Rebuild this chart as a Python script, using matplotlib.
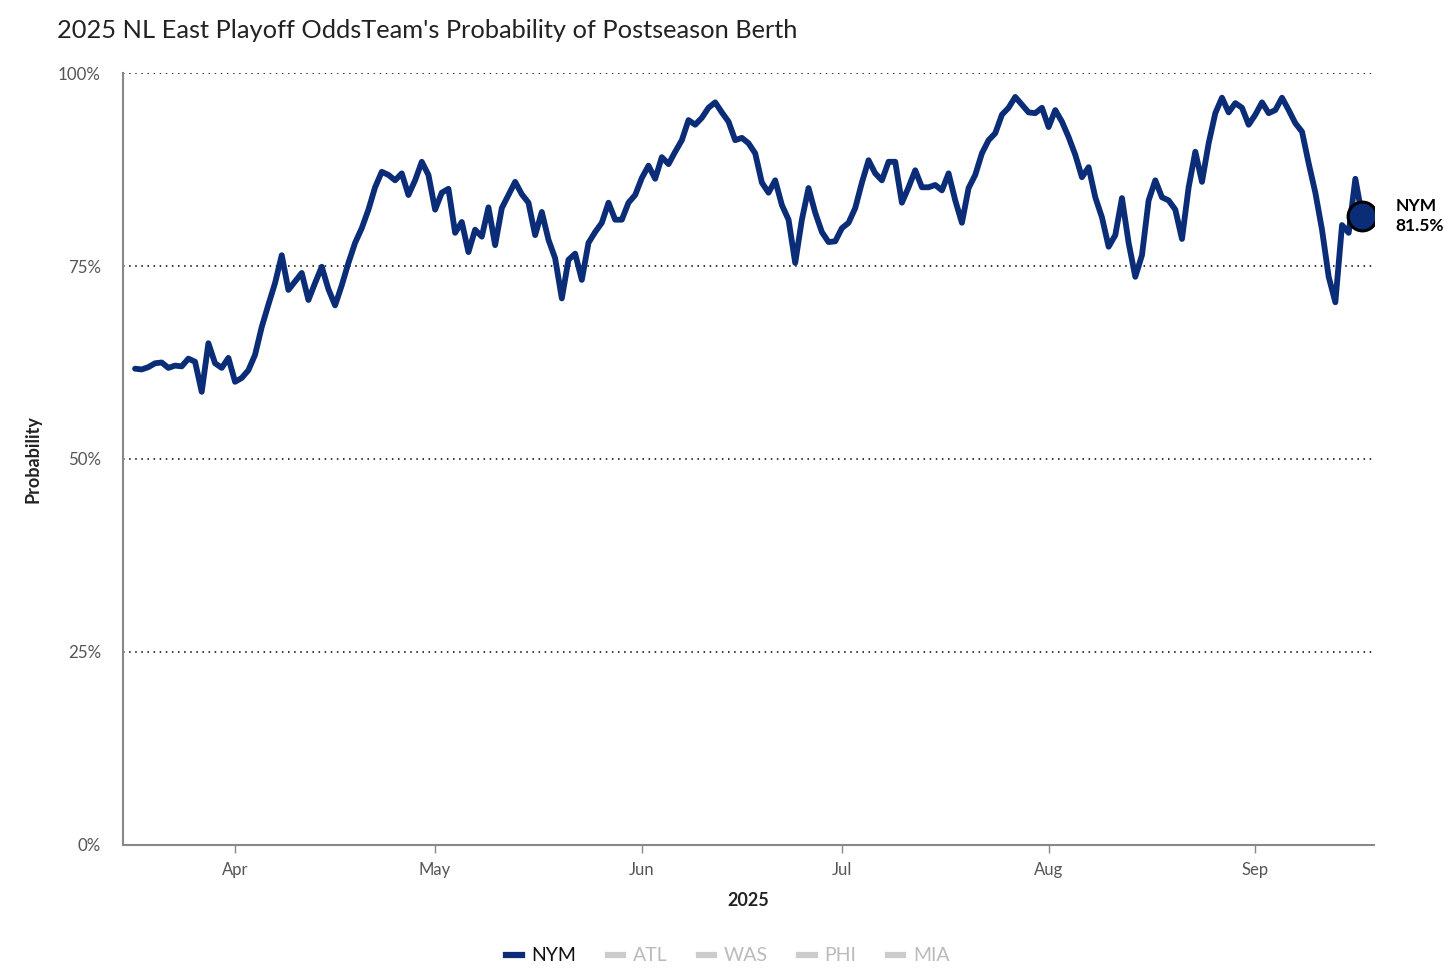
import matplotlib
matplotlib.use("Agg")
import matplotlib.pyplot as plt
from matplotlib.lines import Line2D
import pandas as pd

plt.rcParams['font.family'] = ['Lato', 'DejaVu Sans']

title = "2025 NL East Playoff OddsTeam's Probability of Postseason Berth"
start_date = "2025-03-17"
nym = [
    61.7, 61.6, 61.9, 62.4, 62.5, 61.8, 62.1, 62.0, 63.0, 62.6,
    58.7, 65.0, 62.4, 61.8, 63.1, 60.0, 60.5, 61.5, 63.5, 67.1,
    70.0, 72.8, 76.4, 71.9, 73.0, 74.1, 70.6, 72.8, 74.9, 72.0,
    69.9, 72.5, 75.4, 78.0, 79.9, 82.3, 85.2, 87.2, 86.8, 86.1,
    87.0, 84.2, 86.1, 88.5, 86.8, 82.3, 84.5, 85.0, 79.3, 80.7,
    76.8, 79.7, 78.8, 82.6, 77.7, 82.5, 84.2, 85.9, 84.3, 83.2,
    79.0, 82.0, 78.4, 76.0, 70.8, 75.8, 76.6, 73.2, 78.0, 79.4,
    80.6, 83.2, 81.0, 81.0, 83.2, 84.2, 86.4, 88.0, 86.3, 89.1,
    88.2, 89.8, 91.3, 93.9, 93.3, 94.2, 95.5, 96.2, 94.9, 93.7,
    91.3, 91.6, 90.9, 89.6, 85.8, 84.5, 86.1, 82.9, 81.0, 75.4,
    81.0, 85.1, 81.9, 79.4, 78.1, 78.2, 79.9, 80.6, 82.5, 85.8,
    88.7, 87.0, 86.1, 88.5, 88.5, 83.2, 85.2, 87.4, 85.2, 85.2,
    85.5, 84.8, 87.0, 83.5, 80.6, 85.1, 86.8, 89.6, 91.3, 92.2,
    94.6, 95.5, 96.9, 95.9, 94.9, 94.8, 95.5, 93.0, 95.2, 93.7,
    91.7, 89.4, 86.5, 87.8, 83.9, 81.3, 77.5, 79.0, 83.8, 78.0,
    73.6, 76.4, 83.5, 86.1, 83.9, 83.5, 82.3, 78.5, 85.2, 89.8,
    85.9, 90.9, 94.8, 96.8, 94.9, 96.1, 95.5, 93.3, 94.6, 96.2,
    94.8, 95.2, 96.8, 95.2, 93.5, 92.4, 88.3, 84.5, 79.7, 73.6,
    70.3, 80.3, 79.3, 86.3, 81.5,
]
teams = ["NYM", "ATL", "WAS", "PHI", "MIA"]
yticks = [0, 25, 50, 75, 100]
ytick_labels = ["0%", "25%", "50%", "75%", "100%"]
month_ticks = ["2025-04-01", "2025-05-01", "2025-06-01", "2025-07-01", "2025-08-01", "2025-09-01"]
month_labels = ["Apr", "May", "Jun", "Jul", "Aug", "Sep"]

navy = "#0b2d78"
gray_txt = "#555555"
light = "#cccccc"

dates = pd.date_range(start_date, periods=len(nym), freq="D")

fig = plt.figure(figsize=(14.56, 9.71), dpi=100)
ax = fig.add_axes([0.0845, 0.1298, 0.8592, 0.795])

ax.plot(dates, nym, color=navy, lw=4.2, solid_joinstyle='round', solid_capstyle='round', zorder=3)
ax.scatter([dates[-1]], [nym[-1]], s=430, facecolor=navy, edgecolor="black", linewidth=2.2, zorder=4)
ax.annotate(f"NYM\n{nym[-1]:.1f}%", xy=(dates[-1], nym[-1]), xytext=(24, 0),
            textcoords="offset points", ha="left", va="center", fontsize=12.5,
            fontweight="bold", color="black", linespacing=1.3)

d0 = pd.Timestamp(start_date)
ax.set_xlim(d0 - pd.Timedelta(days=1.8), d0 + pd.Timedelta(days=185.8))
ax.set_ylim(0, 100)

for y in yticks[1:]:
    ax.axhline(y, color="black", lw=1.1, ls=(0, (1, 3)), zorder=1)

ax.set_yticks(yticks)
ax.set_yticklabels(ytick_labels)
ax.set_xticks([pd.Timestamp(m) for m in month_ticks])
ax.set_xticklabels(month_labels)
ax.tick_params(axis="y", length=0, pad=16, labelsize=12.2, labelcolor=gray_txt)
ax.tick_params(axis="x", length=6, width=1, color="#888888", pad=6.5, labelsize=12, labelcolor=gray_txt)

for s in ["top", "right"]:
    ax.spines[s].set_visible(False)
for s in ["left", "bottom"]:
    ax.spines[s].set_color("#888888")
    ax.spines[s].set_linewidth(1.5)

ax.set_xlabel("2025", fontsize=13, fontweight="bold", color="#222222", labelpad=10)
ax.set_ylabel("Probability", fontsize=13, fontweight="bold", color="#222222", labelpad=12)

fig.text(0.039, 0.969, title, fontsize=18.3, color="#222222", ha="left", va="center")

handles = []
for i, t in enumerate(teams):
    handles.append(Line2D([0], [0], color=navy if i == 0 else light, lw=4.5))
leg = fig.legend(handles, teams, loc="center", bbox_to_anchor=(0.5, 0.0155), ncol=5,
                 frameon=False, fontsize=14, handlelength=0.8, handletextpad=0.5,
                 columnspacing=1.6)
for i, txt in enumerate(leg.get_texts()):
    txt.set_color("#111111" if i == 0 else "#bbbbbb")

fig.savefig("out.png", dpi=100)
